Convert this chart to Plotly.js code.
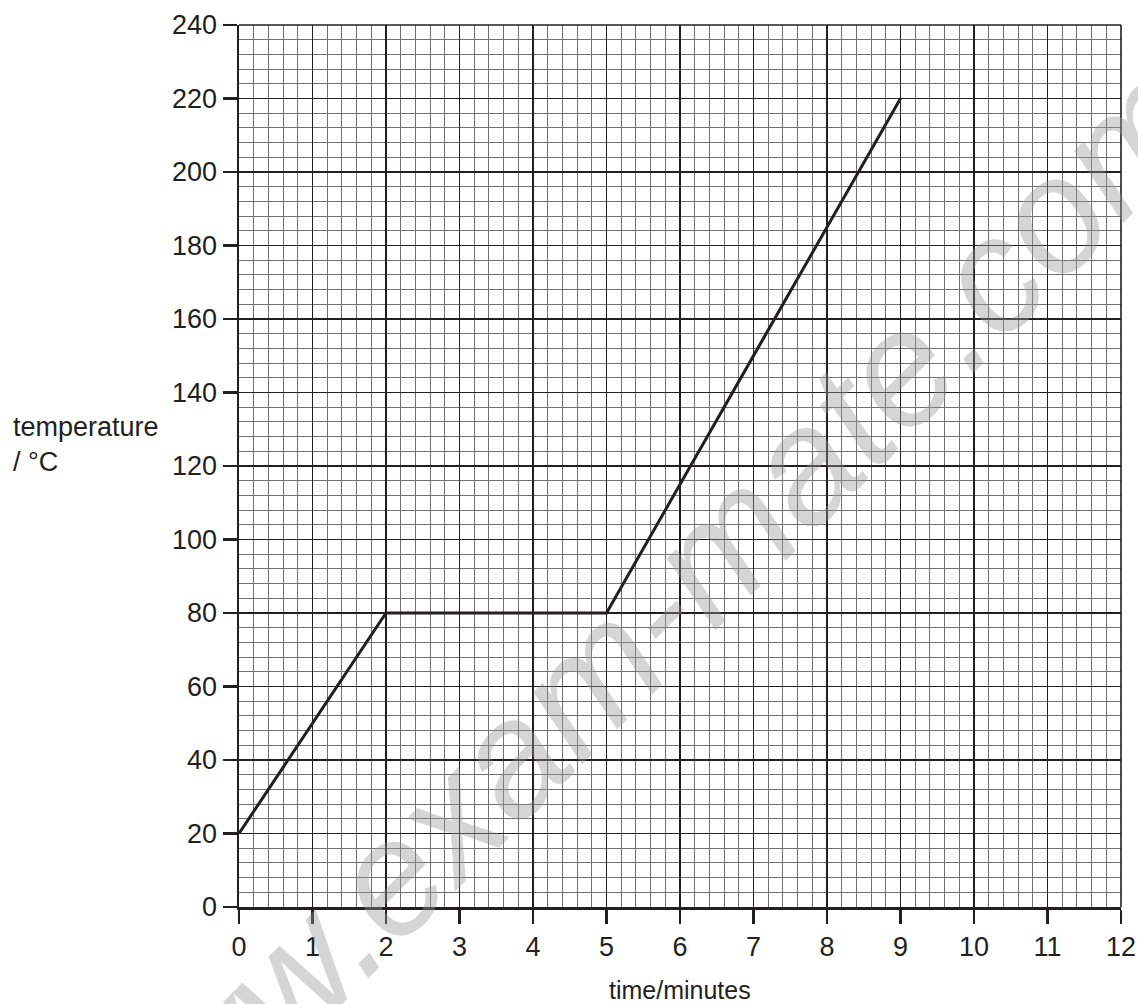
<!DOCTYPE html>
<html>
<head>
<meta charset="utf-8">
<script src="https://cdn.plot.ly/plotly-3.0.1.min.js"></script>
<style>html,body{margin:0;padding:0;background:#fff;}#chart{width:1138px;height:1004px;}</style>
</head>
<body>
<div id="chart"></div>
<script>
var timeMinutes = [0, 2, 5, 9];
var temperatureC = [20, 80, 80, 220];
var xTickVals = [0,1,2,3,4,5,6,7,8,9,10,11,12];
var yTickVals = [0,20,40,60,80,100,120,140,160,180,200,220,240];

var ink = '#231f20';
var trace = {
  x: timeMinutes, y: temperatureC, mode: 'lines', type: 'scatter',
  line: {color: ink, width: 3}, hoverinfo: 'skip'
};

var layout = {
  width: 1138, height: 1004,
  margin: {l: 239, r: 17, t: 25, b: 97},
  paper_bgcolor: '#fff', plot_bgcolor: '#fff',
  showlegend: false,
  font: {family: 'Liberation Sans, Arial, sans-serif', color: ink, size: 28},
  xaxis: {
    range: [0, 12], tickvals: xTickVals, ticktext: xTickVals.map(String),
    showgrid: true, gridcolor: ink, gridwidth: 1.6,
    minor: {dtick: 0.2, showgrid: true, gridcolor: '#707070', gridwidth: 1},
    showline: true, linecolor: ink, linewidth: 2.5,
    ticks: 'outside', ticklen: 14, tickwidth: 2.5, tickcolor: ink,
    zeroline: false, fixedrange: true, tickfont: {size: 27}
  },
  yaxis: {
    range: [0, 240], tickvals: yTickVals, ticktext: yTickVals.map(String),
    showgrid: true, gridcolor: ink, gridwidth: 1.6,
    minor: {dtick: 4, showgrid: true, gridcolor: '#707070', gridwidth: 1},
    showline: true, linecolor: ink, linewidth: 2.5,
    ticks: 'outside', ticklen: 14, tickwidth: 2.5, tickcolor: ink,
    zeroline: false, fixedrange: true, tickfont: {size: 27}
  },
  shapes: [
    {type: 'line', xref: 'paper', yref: 'paper', x0: 0, x1: 1, y0: 1, y1: 1, line: {color: ink, width: 1.6}},
    {type: 'line', xref: 'paper', yref: 'paper', x0: 1, x1: 1, y0: 0, y1: 1, line: {color: ink, width: 1.6}}
  ],
  annotations: [
    {text: 'temperature<br>/ °C', xref: 'paper', yref: 'paper', x: -0.258, y: 0.524,
     xanchor: 'left', yanchor: 'middle', align: 'left', showarrow: false, font: {size: 27, color: ink}},
    {text: 'time/minutes', xref: 'paper', yref: 'paper', x: 0.5, y: -0.094,
     xanchor: 'center', yanchor: 'middle', showarrow: false, font: {size: 25, color: ink}},
    {text: 'www.exam-mate.com', xref: 'paper', yref: 'paper', x: 0.442, y: 0.306,
     xanchor: 'center', yanchor: 'middle', showarrow: false, textangle: -45,
     font: {size: 162, color: 'rgba(150,150,150,0.4)', family: 'Liberation Sans, sans-serif', style: 'italic'}}
  ]
};

Plotly.newPlot('chart', [trace], layout, {displayModeBar: false, staticPlot: true});
</script>
</body>
</html>
